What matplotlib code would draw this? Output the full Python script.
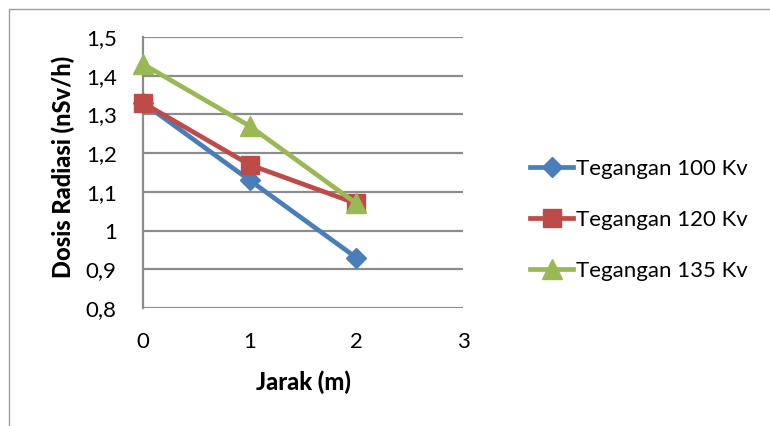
import matplotlib
matplotlib.use("Agg")
import matplotlib.pyplot as plt
from matplotlib.patches import Rectangle

x = [0, 1, 2]
s100 = [1.33, 1.13, 0.93]
s120 = [1.33, 1.17, 1.07]
s135 = [1.43, 1.27, 1.07]
labels = ["Tegangan 100 Kv", "Tegangan 120 Kv", "Tegangan 135 Kv"]
yticks = [0.8, 0.9, 1.0, 1.1, 1.2, 1.3, 1.4, 1.5]
ytick_labels = ["0,8", "0,9", "1", "1,1", "1,2", "1,3", "1,4", "1,5"]
xticks = [0, 1, 2, 3]

plt.rcParams['font.family'] = ['Lato', 'DejaVu Sans']

fig = plt.figure(figsize=(7.7, 4.26), dpi=100)
# outer frame
fig.patches.append(Rectangle((9/770, -0.01), 1.0, 1 - 9/426 + 0.01, transform=fig.transFigure,
                             fill=False, edgecolor='#a0a0a0', linewidth=1.0))

ax = fig.add_axes([143/770, 118/426, 320/770, 271/426])
c_blue, c_red, c_green = '#4A7EBB', '#BE4B48', '#98B954'
ax.plot(x, s100, color=c_blue, lw=3.4, marker='D', ms=10, label=labels[0], zorder=3, clip_on=False)
ax.plot(x, s120, color=c_red, lw=3.4, marker='s', ms=13, label=labels[1], zorder=3, clip_on=False)
ax.plot(x, s135, color=c_green, lw=3.4, marker='^', ms=14, label=labels[2], zorder=4, clip_on=False)

ax.set_xlim(0, 3)
ax.set_ylim(0.8, 1.5)
ax.set_yticks(yticks)
ax.set_yticklabels(ytick_labels)
ax.set_xticks(xticks)
ax.tick_params(length=0, labelsize=16, colors='black')
ax.tick_params(axis='x', pad=17)
ax.tick_params(axis='y', pad=19)
ax.grid(axis='y', color='#8c8c8c', lw=1.6)
ax.set_axisbelow(True)
for s in ['top', 'right', 'bottom']:
    ax.spines[s].set_visible(False)
ax.spines['left'].set_color('#8c8c8c')
ax.spines['left'].set_linewidth(1.6)
ax.set_ylabel("Dosis Radiasi (nSv/h)", fontsize=17, fontweight='black', va='center')
ax.set_xlabel("Jarak (m)", fontsize=17, fontweight='black', va='center')
ax.yaxis.set_label_coords((63 - 143) / 320, (308 - 167) / 271)
ax.xaxis.set_label_coords((303 - 143) / 320, (308 - 382) / 271)

leg = fig.legend(loc='center left', bbox_to_anchor=(510/770, 1 - 220/426), frameon=False,
                 fontsize=16, handlelength=1.95, handletextpad=0.1, labelspacing=1.4,
                 markerscale=1.0)

fig.savefig("out.png", dpi=100)
